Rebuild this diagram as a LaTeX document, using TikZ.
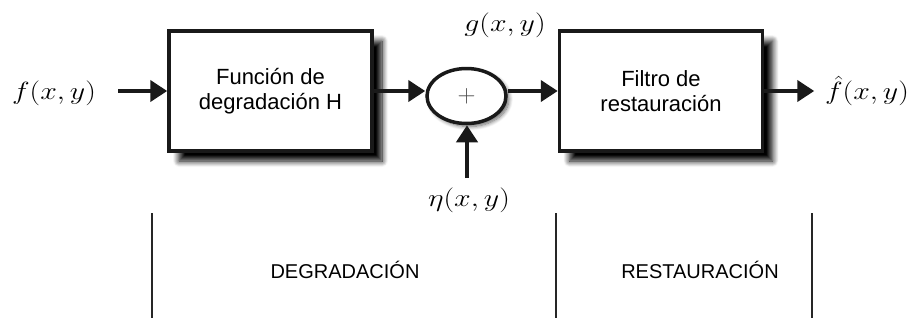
\documentclass[tikz,border=0pt]{standalone}
\usepackage{fontspec}
\setsansfont{Liberation Sans}
\usetikzlibrary{arrows.meta,shadows.blur,shapes.geometric}
\newcommand{\wmath}[1]{\scalebox{1.2}[1]{$#1$}}
\begin{document}
\begin{tikzpicture}[x=1pt,y=-1pt,
  blockbox/.style={draw=black!90, line width=3.5pt, fill=white, minimum width=203pt, minimum height=120pt, inner sep=0pt,
    align=center, font=\sffamily\fontsize{22}{25}\selectfont,
    blur shadow={shadow xshift=10pt, shadow yshift=-10pt, shadow blur steps=10, shadow opacity=100, shadow blur radius=6pt}},
  sumnode/.style={draw=black!90, line width=3.5pt, fill=white, ellipse, minimum width=79pt, minimum height=55pt, inner sep=0pt,
    blur shadow={shadow xshift=3pt, shadow yshift=-3pt, shadow blur steps=8, shadow opacity=60, shadow blur radius=4pt}},
  mathlbl/.style={font=\fontsize{32}{36}\selectfont, inner sep=0pt},
  seclbl/.style={font=\sffamily\fontsize{20}{24}\selectfont, inner sep=0pt},
  sig/.style={line width=4pt, draw=black!90, -{Triangle[length=17pt,width=21pt]}},
  divider/.style={line width=1.8pt, draw=black!85}
]
\useasboundingbox (0,0) rectangle (908,322);

\node[blockbox] (b1) at (270.5,91) {Función de\\degradación H};
\node[blockbox] (b2) at (661,91) {Filtro de\\restauración};
\node[sumnode] (sum) at (466.5,96) {};
\node[font=\fontsize{30}{34}\selectfont, text=black!70, inner sep=0pt] (plus) at (sum.center) {$+$};

\node[mathlbl] (f) at (54,93) {\wmath{f(x,y)}};
\node[mathlbl] (g) at (505,25) {\wmath{g(x,y)}};
\node[mathlbl] (eta) at (469,200) {\wmath{\eta(x,y)}};
\node[mathlbl] (fh) at (867,91) {\wmath{\hat{f}(x,y)}};

\coordinate (fin) at (118,91);
\coordinate (etaend) at (467,178);
\draw[sig] (fin) -- (b1.west |- fin);
\draw[sig] (b1.east) -- (b1.east -| sum.west);
\draw[sig] (sum.east |- b2.west) -- (b2.west);
\draw[sig] (b2.east) -- ++(50,0) coordinate (outend);
\draw[sig] (etaend) -- (etaend |- sum.south);

\coordinate (d1t) at (152,213); \coordinate (d1b) at (152,318);
\coordinate (d2t) at (556,213); \coordinate (d2b) at (556,318);
\coordinate (d3t) at (812,213); \coordinate (d3b) at (812,318);
\draw[divider] (d1t) -- (d1b);
\draw[divider] (d2t) -- (d2b);
\draw[divider] (d3t) -- (d3b);

\node[seclbl] (deg) at (345,270) {DEGRADACIÓN};
\node[seclbl] (res) at (700,270) {RESTAURACIÓN};
\end{tikzpicture}
\end{document}
